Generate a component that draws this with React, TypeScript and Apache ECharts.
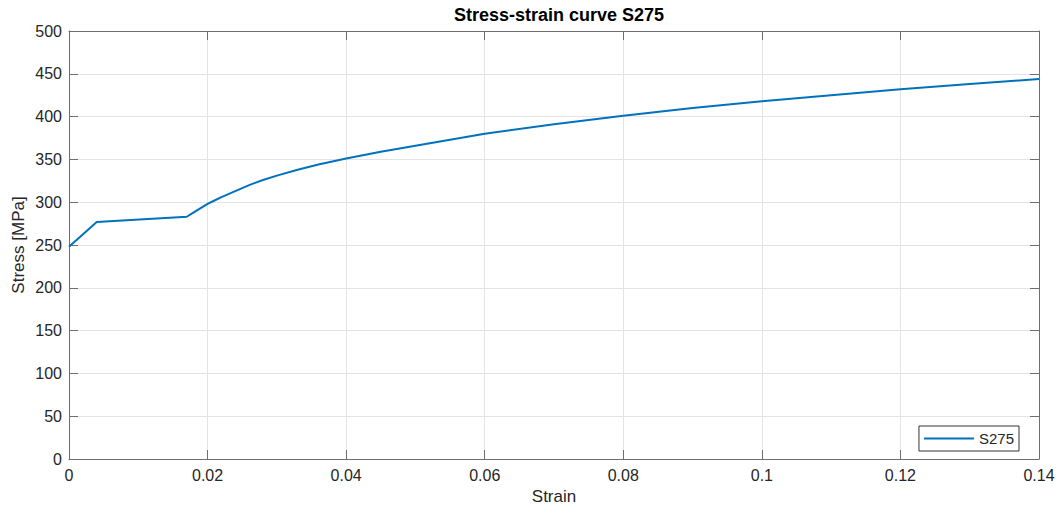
import React, { useEffect, useRef } from "react";
import * as echarts from "echarts";

const strain = [0, 0.004, 0.017, 0.018, 0.019, 0.02, 0.021, 0.022, 0.024, 0.026, 0.028, 0.03, 0.033, 0.036, 0.04, 0.045, 0.05, 0.055, 0.06, 0.07, 0.08, 0.09, 0.1, 0.11, 0.12, 0.13, 0.14];
const stress = [248, 277, 283, 288, 293, 298, 302, 306, 313, 320, 326, 331, 338, 344, 351, 359, 366, 373, 380, 391, 401, 410, 418, 425, 432, 438, 444];
const seriesName = "S275";
const titleText = "Stress-strain curve S275";
const xName = "Strain";
const yName = "Stress [MPa]";

const FONT = "'Liberation Sans', Arial, Helvetica, sans-serif";
const AXIS_COLOR = "#6e6e6e";
const TEXT_COLOR = "#262626";
const GRID_COLOR = "#e3e3e3";

export default function App() {
  const ref = useRef<HTMLDivElement>(null);
  useEffect(() => {
    if (!ref.current) return;
    const chart = echarts.init(ref.current, undefined, { renderer: "svg" });
    const data = strain.map((x, i) => [x, stress[i]]);
    const xFmt = (v: number) => String(+v.toFixed(2));
    const baseX = {
      type: "value" as const,
      min: 0,
      max: 0.14,
      interval: 0.02,
    };
    const baseY = {
      type: "value" as const,
      min: 0,
      max: 500,
      interval: 50,
    };
    chart.setOption({
      animation: false,
      backgroundColor: "#ffffff",
      textStyle: { fontFamily: FONT },
      title: {
        text: titleText,
        left: 554,
        top: 1,
        textAlign: "center",
        textStyle: { fontFamily: FONT, fontSize: 18, fontWeight: "bold", color: "#000" },
      },
      grid: { left: 69, right: 21, top: 31, bottom: 51, containLabel: false },
      legend: {
        right: 41,
        bottom: 59,
        data: [{ name: seriesName, icon: "rect" }],
        itemWidth: 50,
        itemHeight: 2,
        padding: [5, 5, 5, 5],
        borderColor: "#333",
        borderWidth: 1,
        borderRadius: 0,
        backgroundColor: "#fff",
        selectedMode: false,
        textStyle: { fontFamily: FONT, fontSize: 15, color: TEXT_COLOR },
      },
      graphic: [
        {
          type: "text",
          x: 18,
          y: 245,
          rotation: Math.PI / 2,
          style: {
            text: yName,
            fontFamily: FONT,
            fontSize: 17,
            fill: TEXT_COLOR,
            align: "center",
            verticalAlign: "middle",
          },
        },
      ],
      xAxis: [
        {
          ...baseX,
          position: "bottom",
          name: xName,
          nameLocation: "middle",
          nameGap: 29,
          nameTextStyle: { fontFamily: FONT, fontSize: 17, color: TEXT_COLOR },
          axisLine: { show: true, onZero: false, lineStyle: { color: AXIS_COLOR, width: 1 } },
          axisTick: { show: true, inside: true, length: 9, lineStyle: { color: AXIS_COLOR } },
          axisLabel: { formatter: xFmt, fontFamily: FONT, fontSize: 16, color: TEXT_COLOR, margin: 8 },
          splitLine: { show: true, lineStyle: { color: GRID_COLOR, width: 1 } },
        },
        {
          ...baseX,
          position: "top",
          axisLine: { show: true, onZero: false, lineStyle: { color: AXIS_COLOR, width: 1 } },
          axisTick: { show: true, inside: true, length: 9, lineStyle: { color: AXIS_COLOR } },
          axisLabel: { show: false },
          splitLine: { show: false },
        },
      ],
      yAxis: [
        {
          ...baseY,
          position: "left",
          axisLine: { show: true, onZero: false, lineStyle: { color: AXIS_COLOR, width: 1 } },
          axisTick: { show: true, inside: true, length: 9, lineStyle: { color: AXIS_COLOR } },
          axisLabel: { fontFamily: FONT, fontSize: 16, color: TEXT_COLOR, margin: 7 },
          splitLine: { show: true, lineStyle: { color: GRID_COLOR, width: 1 } },
        },
        {
          ...baseY,
          position: "right",
          axisLine: { show: true, onZero: false, lineStyle: { color: AXIS_COLOR, width: 1 } },
          axisTick: { show: true, inside: true, length: 9, lineStyle: { color: AXIS_COLOR } },
          axisLabel: { show: false },
          splitLine: { show: false },
        },
      ],
      series: [
        {
          name: seriesName,
          type: "line",
          xAxisIndex: 0,
          yAxisIndex: 0,
          data,
          showSymbol: false,
          symbol: "none",
          smooth: false,
          color: "#0072BD",
          lineStyle: { color: "#0072BD", width: 2 },
        },
      ],
    });
    return () => chart.dispose();
  }, []);
  return (
    <div
      ref={ref}
      style={{ position: "fixed", left: 0, top: 0, width: 1060, height: 510, background: "#fff" }}
    />
  );
}
